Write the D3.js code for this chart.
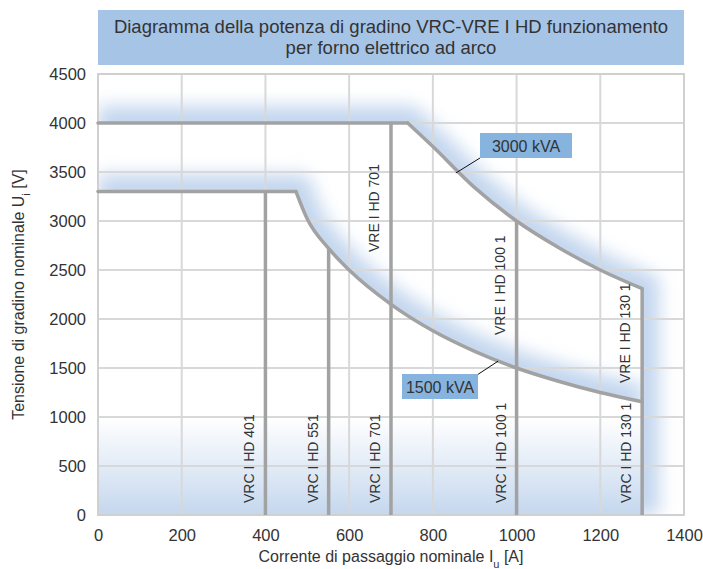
<!DOCTYPE html>
<html><head><meta charset="utf-8">
<script src="https://cdn.jsdelivr.net/npm/d3@7"></script>
<style>
body{margin:0;background:#fff}
text{font-family:"Liberation Sans",Arial,sans-serif;fill:#333}
</style>
</head><body><svg id="c" width="703" height="569"></svg>
<script>
// ---------- data ----------
const titleLines = ["Diagramma della potenza di gradino VRC-VRE I HD funzionamento", "per forno elettrico ad arco"];
const xTickValues = [0, 200, 400, 600, 800, 1000, 1200, 1400];
const yTickValues = [0, 500, 1000, 1500, 2000, 2500, 3000, 3500, 4000, 4500];
const upperFlat = [[0, 4000], [740, 4000]];
const upperCurve = [[740, 4000], [800, 3760], [900, 3340], [1000, 3000], [1100, 2730], [1200, 2500], [1300, 2310]];
const lowerFlat = [[0, 3300], [473, 3300]];
const lowerCurve = [[473, 3300], [500, 3020], [551, 2720], [600, 2500], [700, 2150], [800, 1880], [900, 1670], [1000, 1500], [1100, 1365], [1200, 1250], [1300, 1155]];
const ratingX = [400, 551, 700, 1000, 1300];
const ratingTop = [3300, 2720, 4000, 3000, 2310];
const vrcLabels = ["VRC I HD 401", "VRC I HD 551", "VRC I HD 701", "VRC I HD 100 1", "VRC I HD 130 1"];
const vreLabels = ["VRE I HD 701", "VRE I HD 100 1", "VRE I HD 130 1"];
const vreX = [700, 1000, 1300];
const powerLabels = ["3000 kVA", "1500 kVA"];
const powerPoints = [[855, 3490], [956, 1570]];

// ---------- layout ----------
const W = 703, H = 569;
const plot = {l: 98, r: 684, t: 74, b: 515};
const vreStartPx = [252, 335, 383];
const powerBoxes = [{x: 480, y: 133, w: 92, h: 25, ax: 480, ay: 158}, {x: 402, y: 374, w: 76, h: 25, ax: 477, ay: 375}];

const svg = d3.select("#c");
const x = d3.scaleLinear().domain([0, 1400]).range([plot.l, plot.r]);
const y = d3.scaleLinear().domain([0, 4500]).range([plot.b, plot.t]);

const lin = d3.line().x(d => x(d[0])).y(d => y(d[1]));
const crv = d3.line().x(d => x(d[0])).y(d => y(d[1])).curve(d3.curveMonotoneX);
const join = (flat, curve) => lin(flat) + "L" + crv(curve).slice(1);

const defs = svg.append("defs");
const f = defs.append("filter").attr("id", "blur").attr("filterUnits", "userSpaceOnUse")
  .attr("x", 0).attr("y", 0).attr("width", W).attr("height", H);
f.append("feGaussianBlur").attr("stdDeviation", 9);

const upperPath = join(upperFlat, upperCurve) + "L" + x(1300) + "," + y(0);
const upperOutside = upperPath + "L" + x(1400) + "," + y(0) + "L" + x(1400) + "," + y(4500) + "L" + x(0) + "," + y(4500) + "Z";
const lowerPath = join(lowerFlat, lowerCurve);
const lowerOutside = lowerPath + "L" + x(1300) + "," + y(4500) + "L" + x(0) + "," + y(4500) + "Z";

defs.append("clipPath").attr("id", "cu").append("path").attr("d", upperOutside);
defs.append("clipPath").attr("id", "cl").append("path").attr("d", lowerOutside);
defs.append("clipPath").attr("id", "cp").append("rect")
  .attr("x", plot.l).attr("y", plot.t).attr("width", plot.r - plot.l).attr("height", plot.b - plot.t);

const g = defs.append("linearGradient").attr("id", "bg").attr("gradientUnits", "userSpaceOnUse")
  .attr("x1", 0).attr("x2", 0).attr("y1", y(1000)).attr("y2", y(0));
g.append("stop").attr("offset", 0).attr("stop-color", "#c7d9ef").attr("stop-opacity", 0);
g.append("stop").attr("offset", 1).attr("stop-color", "#c4d7ee").attr("stop-opacity", 1);

// title box
svg.append("rect").attr("x", plot.l).attr("y", 10).attr("width", plot.r - plot.l).attr("height", 55).attr("fill", "#a6c4e6");
svg.selectAll("text.title").data(titleLines).join("text").attr("class", "title")
  .attr("x", (plot.l + plot.r) / 2).attr("y", (d, i) => 33 + i * 21)
  .attr("text-anchor", "middle").style("font-size", "18.5px").text(d => d);

const pg = svg.append("g").attr("clip-path", "url(#cp)");
// glows
pg.append("g").attr("clip-path", "url(#cu)").append("path").attr("d", upperPath)
  .attr("fill", "none").attr("stroke", "#c3d6ee").attr("stroke-width", 34).attr("filter", "url(#blur)");
pg.append("g").attr("clip-path", "url(#cl)").append("path").attr("d", lowerPath)
  .attr("fill", "none").attr("stroke", "#c3d6ee").attr("stroke-width", 34).attr("filter", "url(#blur)");
// bottom gradient
pg.append("rect").attr("x", x(0)).attr("width", x(1300) - x(0)).attr("y", y(1000)).attr("height", y(0) - y(1000)).attr("fill", "url(#bg)");

// grid
svg.append("g").selectAll("line").data(xTickValues.slice(1, -1)).join("line")
  .attr("x1", d => x(d)).attr("x2", d => x(d)).attr("y1", plot.t).attr("y2", plot.b)
  .attr("stroke", "#d8d8d8").attr("stroke-width", 2);
svg.append("g").selectAll("line").data(yTickValues.slice(1, -1)).join("line")
  .attr("y1", d => y(d)).attr("y2", d => y(d)).attr("x1", plot.l).attr("x2", plot.r)
  .attr("stroke", "#d8d8d8").attr("stroke-width", 2);
svg.append("rect").attr("x", plot.l).attr("y", plot.t).attr("width", plot.r - plot.l).attr("height", plot.b - plot.t)
  .attr("fill", "none").attr("stroke", "#d0d0d0").attr("stroke-width", 2);

// axes
const fmt = d3.format("d");
const xa = svg.append("g").attr("transform", `translate(0,${plot.b})`)
  .call(d3.axisBottom(x).tickValues(xTickValues).tickFormat(fmt).tickSize(0).tickPadding(14));
const ya = svg.append("g").attr("transform", `translate(${plot.l},0)`)
  .call(d3.axisLeft(y).tickValues(yTickValues).tickFormat(fmt).tickSize(0).tickPadding(12));
[xa, ya].forEach(a => { a.select(".domain").remove(); a.selectAll("text").style("font-size", "16.5px").attr("fill", "#333").style("font-family", '"Liberation Sans",Arial,sans-serif'); });

// axis titles
const xt = svg.append("text").attr("x", (plot.l + plot.r) / 2).attr("y", 562).attr("text-anchor", "middle").style("font-size", "16px");
xt.append("tspan").text("Corrente di passaggio nominale I");
xt.append("tspan").attr("baseline-shift", "sub").style("font-size", "11px").text("u");
xt.append("tspan").text(" [A]");
const yt = svg.append("text").attr("transform", `translate(24,${(plot.t + plot.b) / 2}) rotate(-90)`).attr("text-anchor", "middle").style("font-size", "16px");
yt.append("tspan").text("Tensione di gradino nominale U");
yt.append("tspan").attr("baseline-shift", "sub").style("font-size", "11px").text("i");
yt.append("tspan").text(" [V]");

// rating lines
const stroke = "#a2a2a2";
svg.append("g").selectAll("line").data(ratingX).join("line")
  .attr("x1", d => x(d)).attr("x2", d => x(d)).attr("y1", (d, i) => y(ratingTop[i])).attr("y2", y(0))
  .attr("stroke", stroke).attr("stroke-width", 3.5);
[lin(upperFlat), crv(upperCurve), lin(lowerFlat), crv(lowerCurve)].forEach(d =>
  svg.append("path").attr("d", d).attr("fill", "none").attr("stroke", stroke).attr("stroke-width", 3.5).attr("stroke-linecap", "round"));

// rotated labels
svg.append("g").selectAll("text").data(vrcLabels).join("text")
  .attr("transform", (d, i) => `translate(${x(ratingX[i]) - 11},${plot.b - 12}) rotate(-90)`)
  .style("font-size", "14px").text(d => d);
svg.append("g").selectAll("text").data(vreLabels).join("text")
  .attr("transform", (d, i) => `translate(${x(vreX[i]) - 12},${vreStartPx[i]}) rotate(-90)`)
  .style("font-size", "14px").text(d => d);

// power labels
powerLabels.forEach((t, i) => {
  const b = powerBoxes[i], p = powerPoints[i];
  svg.append("line").attr("x1", b.ax).attr("y1", b.ay).attr("x2", x(p[0])).attr("y2", y(p[1])).attr("stroke", "#111").attr("stroke-width", 1);
  svg.append("rect").attr("x", b.x).attr("y", b.y).attr("width", b.w).attr("height", b.h).attr("fill", "#86b4de");
  svg.append("text").attr("x", b.x + b.w / 2).attr("y", b.y + b.h / 2 + 6).attr("text-anchor", "middle").style("font-size", "16px").text(t);
});
</script></body></html>
